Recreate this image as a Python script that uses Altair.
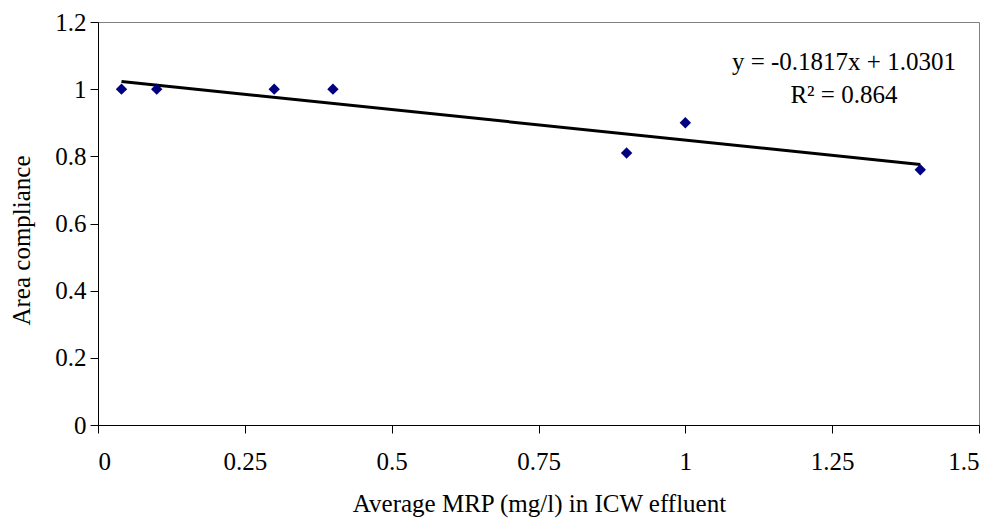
import altair as alt
import pandas as pd

mrp = [0.04, 0.1, 0.3, 0.4, 0.9, 1.0, 1.4]
compliance = [1.0, 1.0, 1.0, 1.0, 0.81, 0.9, 0.76]
slope = -0.1817
intercept = 1.0301
eq_lines = ["y = -0.1817x + 1.0301", "R² = 0.864"]
eq_x = [1.27, 1.27]
eq_y = [1.057, 0.960]

pts = pd.DataFrame({"x": mrp, "y": compliance})
xmin, xmax = min(mrp), max(mrp)
trend = pd.DataFrame({"x": [xmin, xmax], "y": [slope * xmin + intercept, slope * xmax + intercept]})
ann = pd.DataFrame({"x": eq_x, "y": eq_y, "t": eq_lines})

FONT = "Liberation Serif"
FS = 25

xs = alt.Scale(domain=[0, 1.5], nice=False, zero=False)
ys = alt.Scale(domain=[0, 1.2], nice=False)

xaxis = alt.Axis(
    values=[0, 0.25, 0.5, 0.75, 1, 1.25, 1.5],
    labelExpr="format(datum.value, '')",
    title="Average MRP (mg/l) in ICW effluent",
    grid=False, tickSize=8, labelPadding=16,
    titleX=441, titleY=86, titleBaseline="alphabetic", titleAnchor="middle",
)
yaxis = alt.Axis(
    values=[0, 0.2, 0.4, 0.6, 0.8, 1.0, 1.2],
    labelExpr="format(datum.value, '')",
    title="Area compliance",
    grid=False, tickSize=8, labelPadding=4,
    titleX=-69, titleY=218, titleBaseline="alphabetic", titleAnchor="middle",
)

points = alt.Chart(pts).mark_point(
    shape="diamond", filled=True, color="#000080", size=130, opacity=1
).encode(x=alt.X("x:Q", scale=xs, axis=xaxis), y=alt.Y("y:Q", scale=ys, axis=yaxis))

line = alt.Chart(trend).mark_line(color="black", strokeWidth=3).encode(
    x=alt.X("x:Q", scale=xs), y=alt.Y("y:Q", scale=ys)
)

text = alt.Chart(ann).mark_text(
    font=FONT, fontSize=FS, align="center", baseline="alphabetic", color="black"
).encode(x=alt.X("x:Q", scale=xs), y=alt.Y("y:Q", scale=ys), text="t:N")

chart = alt.layer(line, points, text).properties(
    width=881, height=403,
    autosize=alt.AutoSizeParams(type="none"),
    padding={"left": 90, "top": 14, "right": 10, "bottom": 94},
).configure_view(
    stroke="#808080", strokeWidth=1
).configure_axis(
    domainColor="black", tickColor="black", domainWidth=1, tickWidth=1,
    labelFont=FONT, titleFont=FONT, labelFontSize=FS, titleFontSize=FS,
    labelColor="black", titleColor="black", titleFontWeight="normal",
)

chart.save("out.html", embed_options={"renderer": "svg", "actions": False})
